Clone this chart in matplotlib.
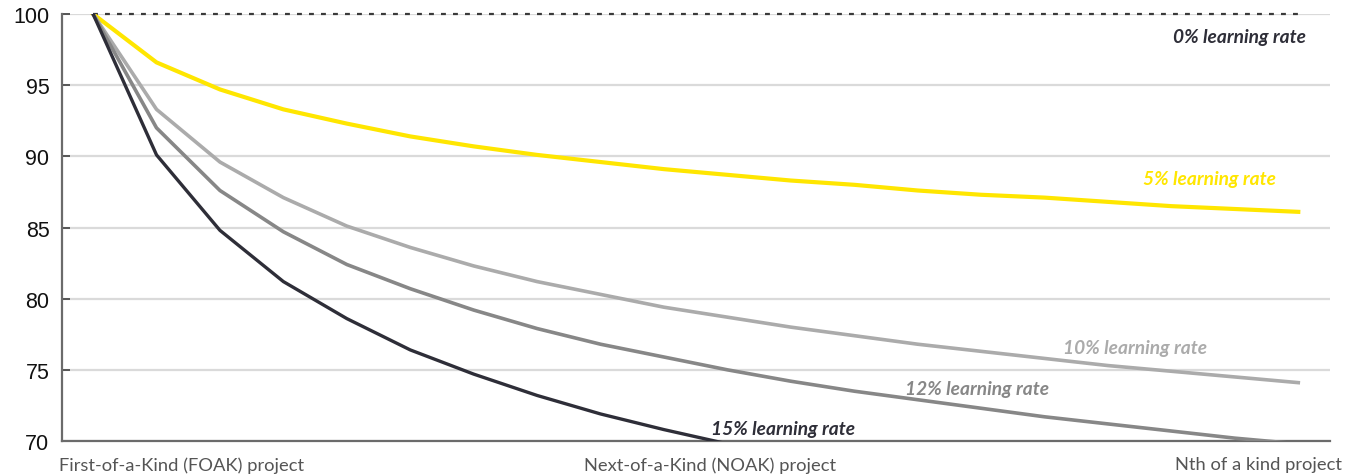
import matplotlib
matplotlib.use("Agg")
import matplotlib.pyplot as plt

# Project number along the deployment path (1 = FOAK)
projects = list(range(1, 21))

# Relative cost index per project for each learning rate
cost_0 = [100.0] * 20
cost_5 = [100.0, 96.6, 94.7, 93.3, 92.3, 91.4, 90.7, 90.1, 89.6, 89.1,
          88.7, 88.3, 88.0, 87.6, 87.3, 87.1, 86.8, 86.5, 86.3, 86.1]
cost_10 = [100.0, 93.3, 89.6, 87.1, 85.1, 83.6, 82.3, 81.2, 80.3, 79.4,
           78.7, 78.0, 77.4, 76.8, 76.3, 75.8, 75.3, 74.9, 74.5, 74.1]
cost_12 = [100.0, 92.0, 87.6, 84.7, 82.4, 80.7, 79.2, 77.9, 76.8, 75.9,
           75.0, 74.2, 73.5, 72.9, 72.3, 71.7, 71.2, 70.7, 70.2, 69.8]
cost_15 = [100.0, 90.1, 84.8, 81.2, 78.6, 76.4, 74.7, 73.2, 71.9, 70.8,
           69.8]

series_labels = ["0% learning rate", "5% learning rate", "10% learning rate",
                 "12% learning rate", "15% learning rate"]
x_tick_labels = ["First-of-a-Kind (FOAK) project",
                 "Next-of-a-Kind (NOAK) project",
                 "Nth of a kind project"]
y_ticks = [70, 75, 80, 85, 90, 95, 100]

YELLOW = "#FFE600"
LIGHT = "#ABABAB"
MID = "#878787"
DARK = "#2E2E38"

W, H = 1360, 477
fig = plt.figure(figsize=(W / 100, H / 100), dpi=100)
ax = fig.add_axes([62 / W, 1 - 442 / H, (1330 - 62) / W, (442 - 15) / H])

ax.set_xlim(0.51, 20.5)
ax.set_ylim(70, 100)

# horizontal grid
for y in y_ticks:
    ax.axhline(y, color="#DADADA", lw=1.6, zorder=0)

ax.plot(projects, cost_0, color="#3a3a3a", lw=1.6, ls=(0, (2.2, 3.2)), zorder=3,
        clip_on=False)
ax.plot(projects, cost_5, color=YELLOW, lw=3.0, zorder=4)
ax.plot(projects, cost_10, color=LIGHT, lw=2.6, zorder=4)
ax.plot(projects, cost_12, color=MID, lw=2.6, zorder=4)
ax.plot(projects[:len(cost_15)], cost_15, color=DARK, lw=2.4, zorder=5)

lab_font = dict(family=["Lato", "DejaVu Sans"], fontsize=13.8, fontweight="bold",
                fontstyle="italic")


def place(px, py, text, color):
    fig.text(px / W, 1 - py / H, text, color=color, ha="left", va="center",
             **lab_font)


place(1173, 38, series_labels[0], DARK)
place(1143, 180, series_labels[1], YELLOW)
place(1063, 349, series_labels[2], LIGHT)
place(905, 390, series_labels[3], MID)
place(711, 430, series_labels[4], DARK)

# axes styling
for side in ("top", "right"):
    ax.spines[side].set_visible(False)
ax.spines["left"].set_color("#6b6b6b")
ax.spines["left"].set_linewidth(1.6)
ax.spines["bottom"].set_color("#6b6b6b")
ax.spines["bottom"].set_linewidth(1.6)

ax.set_yticks(y_ticks)
ax.set_yticklabels([str(v) for v in y_ticks], family=["Liberation Sans"],
                   fontsize=15.5, color="#111111")
ax.tick_params(axis="y", direction="in", length=5.5, width=1.4, color="#555555",
               pad=9)

ax.set_xticks([2.40, 10.73, 19.37])
ax.set_xticklabels(x_tick_labels, family=["Lato", "DejaVu Sans"], fontsize=13.2,
                   color="#555555")
ax.tick_params(axis="x", length=0, pad=11)

fig.savefig("out.png", dpi=100)
